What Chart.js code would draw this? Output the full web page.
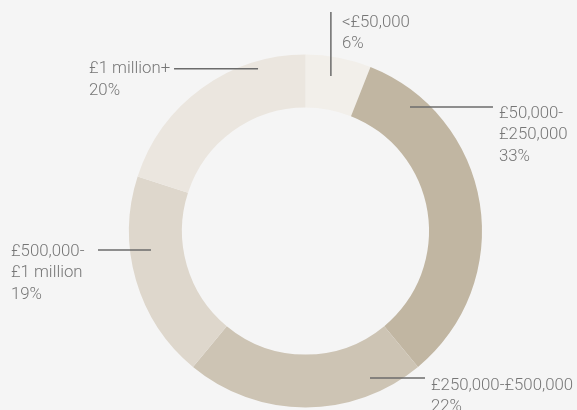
<!DOCTYPE html>
<html>
<head>
<meta charset="utf-8">
<script src="https://cdn.jsdelivr.net/npm/chart.js@4.4.1/dist/chart.umd.min.js"></script>
<style>
  html, body { margin: 0; padding: 0; background: #f5f5f5; }
  #wrap { width: 577px; height: 410px; }
</style>
</head>
<body>
<div id="wrap"><canvas id="myChart" width="577" height="410"></canvas></div>
<script>
// bands and their share of the total
const categories = ['<£50,000', '£50,000-£250,000', '£250,000-£500,000', '£500,000-£1 million', '£1 million+'];
const shares = [6, 33, 22, 19, 20];
// text lines written next to each slice
const labelLines = [
    ['<£50,000'],
    ['£50,000-', '£250,000'],
    ['£250,000-£500,000'],
    ['£500,000-', '£1 million'],
    ['£1 million+']
];
const colours = ['#f2efea', '#c1b6a2', '#cdc4b4', '#ded7cc', '#ebe6df'];

// where each leader line leaves its slice (degrees clockwise from 12 o'clock, share of outer radius),
// how far it runs and where the text sits from its far end
const callouts = [
    { angle: 9.3,   r: 0.89,  dx: 0,   dy: -64, tx: 11,  ty: 15 },
    { angle: 40.1,  r: 0.919, dx: 83,  dy: 0,   tx: 6,   ty: 11 },
    { angle: 156.3, r: 0.909, dx: 55,  dy: 0,   tx: 6,   ty: 12 },
    { angle: 263,   r: 0.882, dx: -53, dy: 0,   tx: -87, ty: 6 },
    { angle: 343.7, r: 0.958, dx: -84, dy: 0,   tx: -85, ty: 4.5 }
];

const calloutPlugin = {
    id: 'callouts',
    afterDatasetsDraw(chart) {
        const c = chart.ctx;
        const arcs = chart.getDatasetMeta(0).data;
        c.save();
        arcs.forEach((arc, i) => {
            const p = callouts[i];
            const a = (p.angle - 90) * Math.PI / 180;
            const x0 = arc.x + arc.outerRadius * p.r * Math.cos(a);
            const y0 = arc.y + arc.outerRadius * p.r * Math.sin(a);
            const x1 = x0 + p.dx;
            const y1 = y0 + p.dy;
            c.strokeStyle = '#6b6b6b';
            c.lineWidth = 1.5;
            c.beginPath();
            c.moveTo(x0, y0);
            c.lineTo(x1, y1);
            c.stroke();

            c.fillStyle = '#767676';
            c.font = '300 16.8px Roboto';
            c.textAlign = 'left';
            c.textBaseline = 'alphabetic';
            const lines = labelLines[i].concat([shares[i] + '%']);
            lines.forEach((t, k) => {
                c.fillText(t, x1 + p.tx, y1 + p.ty + k * 21.3);
            });
        });
        c.restore();
    }
};

const ctx = document.getElementById('myChart').getContext('2d');
const myChart = new Chart(ctx, {
    type: 'doughnut',
    data: {
        labels: categories,
        datasets: [{
            data: shares,
            backgroundColor: colours,
            borderWidth: 0
        }]
    },
    options: {
        responsive: false,
        animation: false,
        events: [],
        cutout: '70%',
        layout: { padding: { left: 129, right: 95, top: 54.5, bottom: 2.5 } },
        plugins: {
            legend: { display: false },
            tooltip: { enabled: false }
        }
    },
    plugins: [calloutPlugin]
});
</script>
</body>
</html>
